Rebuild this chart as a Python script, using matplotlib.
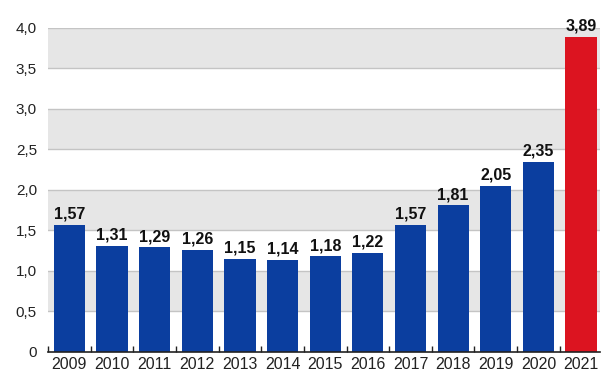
import matplotlib
matplotlib.use("Agg")
import matplotlib.pyplot as plt
import numpy as np

years = ["2009", "2010", "2011", "2012", "2013", "2014", "2015",
         "2016", "2017", "2018", "2019", "2020", "2021"]
values = [1.57, 1.31, 1.29, 1.26, 1.15, 1.14, 1.18, 1.22, 1.57, 1.81, 2.05, 2.35, 3.89]
ytick_vals = [0, 0.5, 1.0, 1.5, 2.0, 2.5, 3.0, 3.5, 4.0]
ytick_labels = ["0", "0,5", "1,0", "1,5", "2,0", "2,5", "3,0", "3,5", "4,0"]

BLUE = "#0b3e9f"
RED = "#dc1420"

plt.rcParams["font.family"] = ["Liberation Sans", "DejaVu Sans"]

fig = plt.figure(figsize=(6.01, 3.76), dpi=100)
ax = fig.add_axes([0.08, 0.064, 0.918, 0.862])

# alternating grey bands
for lo in [0.5, 1.5, 2.5, 3.5]:
    ax.axhspan(lo, lo + 0.5, color="#e6e6e6", zorder=0, lw=0)
for y in ytick_vals[1:]:
    ax.axhline(y, color="#c4c4c4", lw=1.0, zorder=1)

x = np.arange(len(years))
colors = [BLUE] * (len(years) - 1) + [RED]
ax.bar(x, values, width=0.73, color=colors, zorder=2)

for xi, v in zip(x, values):
    ax.text(xi, v + 0.04, f"{v:.2f}".replace(".", ","), ha="center", va="bottom",
            fontsize=11.5, fontweight="bold", color="#111111", clip_on=False)

ax.set_xlim(-0.48, 12.44)
ax.set_ylim(0, 4.0)
ax.set_yticks(ytick_vals)
ax.set_yticklabels(ytick_labels, fontsize=11, color="#222222")
ax.set_xticks(x)
ax.set_xticklabels(years, fontsize=11.5, color="#222222")
ax.tick_params(axis="x", length=0, pad=4)
ax.tick_params(axis="y", length=0, pad=8)
ax.set_xticks(np.arange(-0.5, 12.5, 1.0), minor=True)
ax.tick_params(axis="x", which="minor", direction="in", length=4, width=1, color="#222222")

for s in ["top", "right", "left"]:
    ax.spines[s].set_visible(False)
ax.spines["bottom"].set_color("#222222")
ax.spines["bottom"].set_linewidth(1.2)

fig.savefig("out.png", dpi=100)
